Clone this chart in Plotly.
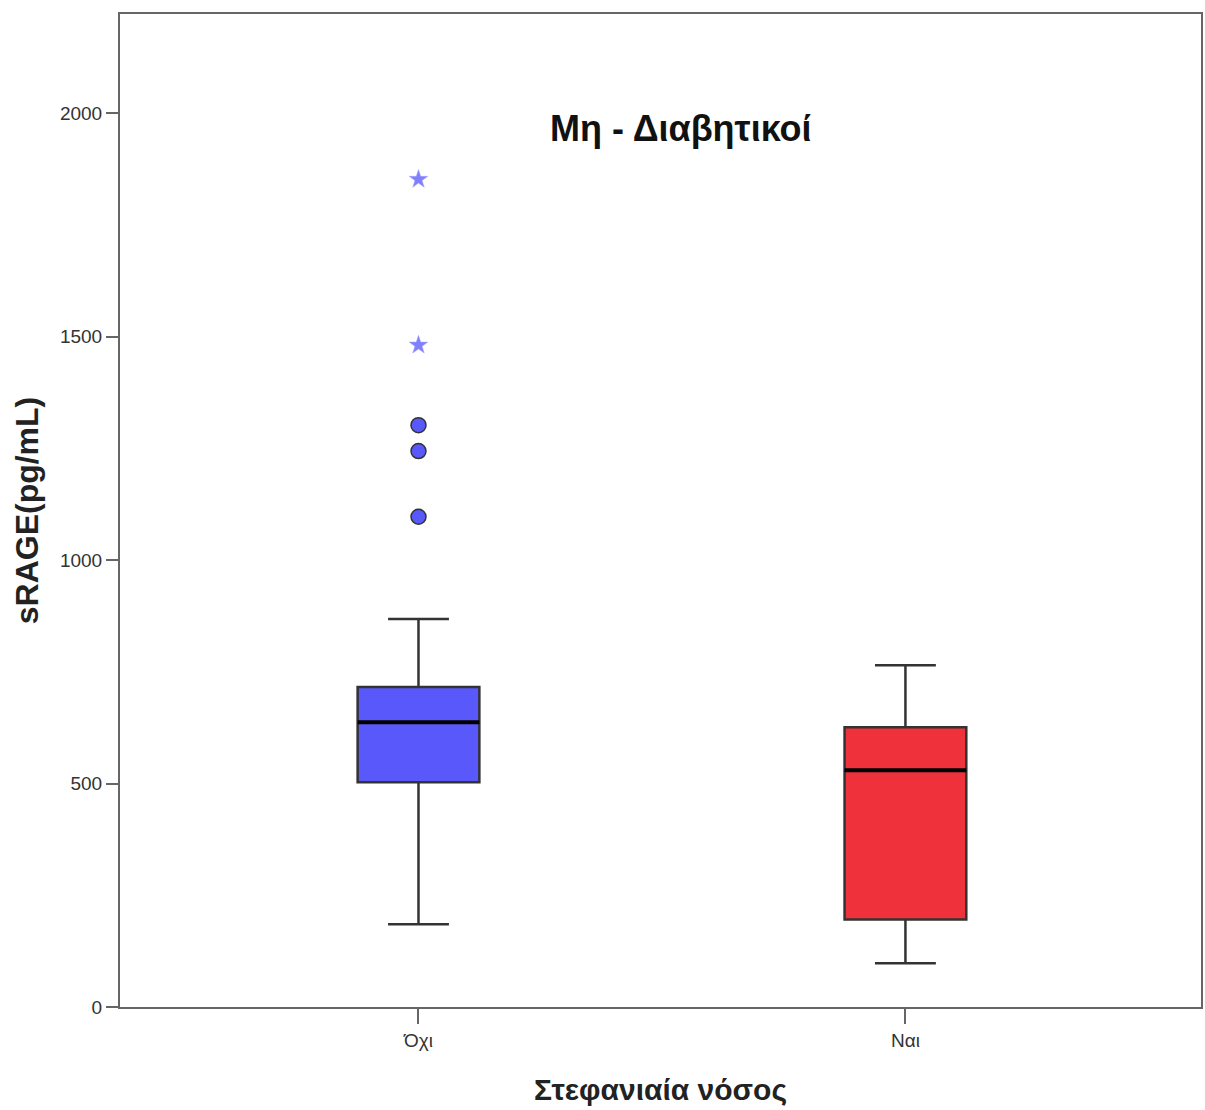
import plotly.graph_objects as go

categories = ["Όχι", "Ναι"]
q1 = [503, 196]
median = [637, 530]
q3 = [716, 626]
lower_whisker = [185, 98]
upper_whisker = [868, 765]
box_colors = ["#5959fb", "#ee313a"]

outlier_circle_y = [1302, 1244, 1097]
outlier_star_y = [1852, 1481]

y_ticks = [0, 500, 1000, 1500, 2000]

fig = go.Figure()

for i, cat in enumerate(categories):
    fig.add_trace(go.Box(
        x=[cat], q1=[q1[i]], median=[median[i]], q3=[q3[i]],
        lowerfence=[lower_whisker[i]], upperfence=[upper_whisker[i]],
        fillcolor=box_colors[i], line=dict(color="#333333", width=2.5),
        whiskerwidth=0.5, width=0.25, boxpoints=False, showlegend=False,
        hoverinfo="skip",
    ))
    # thick black median line
    fig.add_trace(go.Box(
        x=[cat], q1=[median[i]], median=[median[i]], q3=[median[i]],
        lowerfence=[median[i]], upperfence=[median[i]],
        fillcolor="rgba(0,0,0,0)", line=dict(color="#000000", width=4),
        whiskerwidth=0, width=0.25, boxpoints=False, showlegend=False,
        hoverinfo="skip",
    ))

fig.add_trace(go.Scatter(
    x=[categories[0]] * len(outlier_circle_y), y=outlier_circle_y, mode="markers",
    marker=dict(symbol="circle", size=15, color="#5959fb",
                line=dict(color="#333333", width=1.5)),
    showlegend=False,
))
fig.add_trace(go.Scatter(
    x=[categories[0]] * len(outlier_star_y), y=outlier_star_y, mode="markers",
    marker=dict(symbol="star", size=14, color="#8080ff",
                line=dict(color="#a0a0ff", width=0.5)),
    showlegend=False,
))

fig.add_annotation(
    text="<b>Μη - Διαβητικοί</b>", x=0.519, y=0.885, xref="paper", yref="paper",
    xanchor="center", yanchor="middle",
    showarrow=False, font=dict(family="Liberation Sans, Arial", size=36, color="#111111"),
)

fig.update_layout(
    width=1205, height=1110,
    margin=dict(l=120, r=2, t=14, b=103),
    paper_bgcolor="white", plot_bgcolor="white",
    boxmode="overlay",
    font=dict(family="Liberation Sans, Arial", color="#333333"),
)
fig.update_xaxes(
    type="category", categoryorder="array", categoryarray=categories,
    range=[-0.613, 1.607],
    showline=True, linecolor="#666666", linewidth=2, mirror=True,
    ticks="outside", ticklen=15, tickwidth=2, tickcolor="#666666",
    tickfont=dict(size=19, family="Liberation Sans, Arial", color="#333333"),
    showgrid=False, zeroline=False,
    title=dict(text="<b>Στεφανιαία νόσος</b>", standoff=29,
               font=dict(family="Liberation Sans, Arial", size=30, color="#222222")),
)
fig.update_yaxes(
    range=[0, 2222], tickvals=y_ticks,
    showline=True, linecolor="#666666", linewidth=2, mirror=True,
    ticks="outside", ticklen=12, tickwidth=2, tickcolor="#666666",
    tickfont=dict(size=19, family="Liberation Sans, Arial", color="#333333"),
    showgrid=False, zeroline=False,
    title=dict(text="<b>sRAGE(pg/mL)</b>", standoff=12,
               font=dict(family="Liberation Sans, Arial", size=32, color="#222222")),
)

fig.write_html("out.html")
